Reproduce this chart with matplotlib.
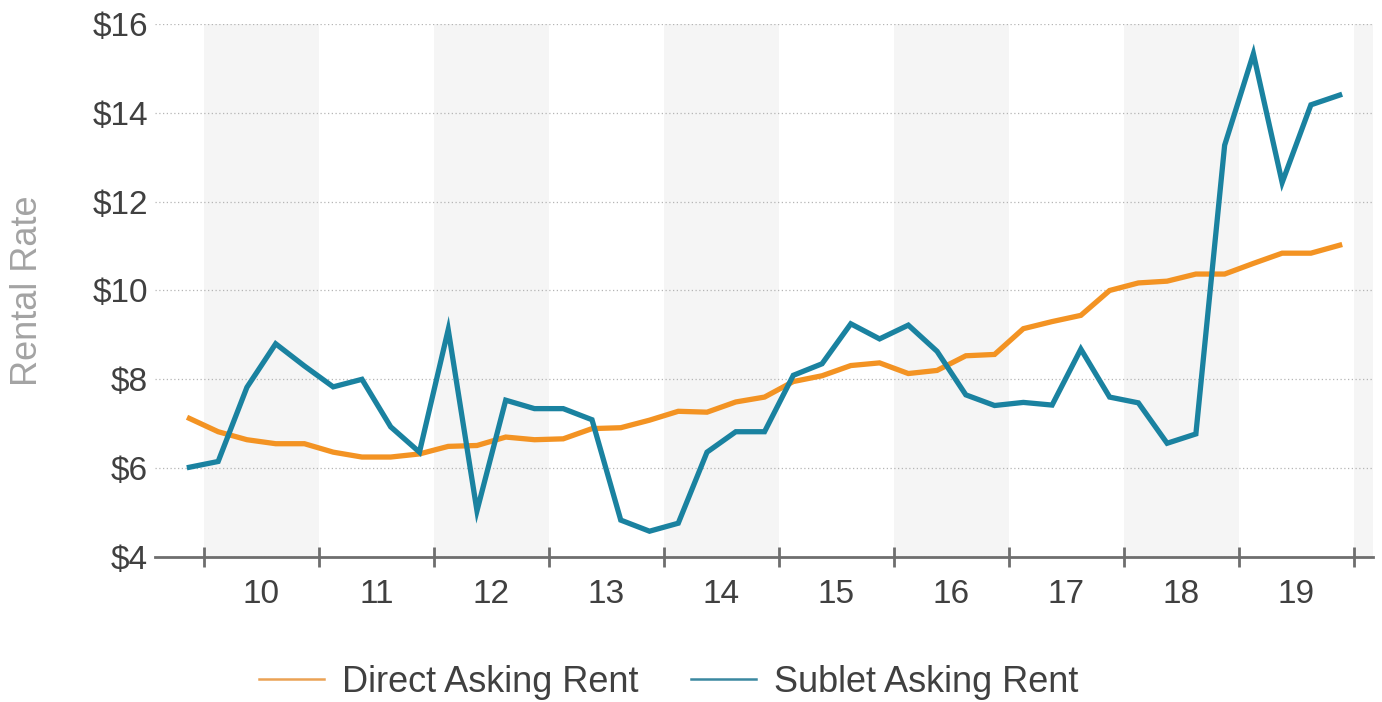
import numpy as np
import matplotlib.pyplot as plt
from matplotlib.ticker import FixedLocator, FuncFormatter

plt.rcParams['font.family'] = ['Liberation Sans', 'DejaVu Sans']

# Quarterly asking rents, 4Q09 - 4Q19
quarters = ["4Q09"] + [f"{q}Q{y:02d}" for y in range(10, 20) for q in range(1, 5)]

direct_rent = [
    7.12,
    6.82, 6.64, 6.55, 6.55,
    6.36, 6.25, 6.25, 6.32,
    6.49, 6.51, 6.70, 6.64,
    6.66, 6.89, 6.91, 7.08,
    7.28, 7.26, 7.49, 7.60,
    7.95, 8.08, 8.31, 8.37,
    8.13, 8.20, 8.53, 8.56,
    9.14, 9.30, 9.44, 10.00,
    10.17, 10.21, 10.37, 10.37,
    10.61, 10.84, 10.84, 11.02,
]

sublet_rent = [
    6.02,
    6.15, 7.82, 8.80, 8.30,
    7.83, 8.00, 6.93, 6.36,
    9.12, 5.04, 7.53, 7.34,
    7.34, 7.09, 4.83, 4.58,
    4.76, 6.36, 6.82, 6.82,
    8.09, 8.35, 9.25, 8.91,
    9.22, 8.63, 7.65, 7.41,
    7.48, 7.42, 8.68, 7.60,
    7.47, 6.56, 6.77, 13.27,
    15.33, 12.43, 14.18, 14.40,
]

years = list(range(10, 20))
y_ticks = [4, 6, 8, 10, 12, 14, 16]


def quarter_position(label):
    q = int(label[0])
    y = 2000 + int(label[2:])
    return y + (q - 0.5) / 4


x = np.array([quarter_position(q) for q in quarters])

fig = plt.figure(figsize=(13.82, 7.02), dpi=100)
ax = fig.add_axes([0.112, 0.2066, 0.8815, 0.7592])

# alternating year bands
for yr in range(2010, 2021, 2):
    ax.axvspan(yr, yr + 1, color="#f5f5f5", zorder=0, lw=0)

ax.plot(x, direct_rent, color="#f39323", lw=3.8, solid_joinstyle="miter",
        label="Direct Asking Rent", zorder=3)
ax.plot(x, sublet_rent, color="#1a82a0", lw=3.8, solid_joinstyle="miter",
        label="Sublet Asking Rent", zorder=4)

ax.set_xlim(2009.574, 2020.165)
ax.set_ylim(4, 16)

ax.set_yticks(y_ticks)
ax.yaxis.set_major_formatter(FuncFormatter(lambda v, p: f"${v:.0f}"))
ax.tick_params(axis="y", length=0, pad=5, labelsize=24, labelcolor="#404040")
ax.grid(axis="y", linestyle=(0, (1, 2)), color="#b5b5b5", lw=0.9)

ax.xaxis.set_major_locator(FixedLocator(range(2010, 2021)))
ax.xaxis.set_minor_locator(FixedLocator([2000 + y + 0.5 for y in years]))
ax.xaxis.set_major_formatter(FuncFormatter(lambda v, p: ""))
ax.xaxis.set_minor_formatter(FuncFormatter(lambda v, p: f"{int(v) % 100}"))
ax.tick_params(axis="x", which="major", direction="inout", length=15, width=2, color="#6e6e6e")
ax.tick_params(axis="x", which="minor", length=0, pad=16, labelsize=24, labelcolor="#404040")

for side in ["left", "right", "top"]:
    ax.spines[side].set_visible(False)
ax.spines["bottom"].set_color("#6e6e6e")
ax.spines["bottom"].set_linewidth(2)
ax.spines["bottom"].set_zorder(5)

fig.text(28 / 1382, 1 - 291 / 702, "Rental Rate", rotation=90, ha="center", va="center",
         fontsize=26, color="#a3a3a3")

handles, labels = ax.get_legend_handles_labels()
leg = fig.legend(handles, labels, loc="center", bbox_to_anchor=(0.4837, 0.028),
                 ncol=2, frameon=False, fontsize=26, handlelength=1.8,
                 handletextpad=0.5, columnspacing=1.45, borderpad=0.2)
for line, c in zip(leg.get_lines(), ["#eba255", "#3b88a0"]):
    line.set_linewidth(1.8)
    line.set_color(c)
for t in leg.get_texts():
    t.set_color("#404040")

fig.savefig("out.png", dpi=100)
